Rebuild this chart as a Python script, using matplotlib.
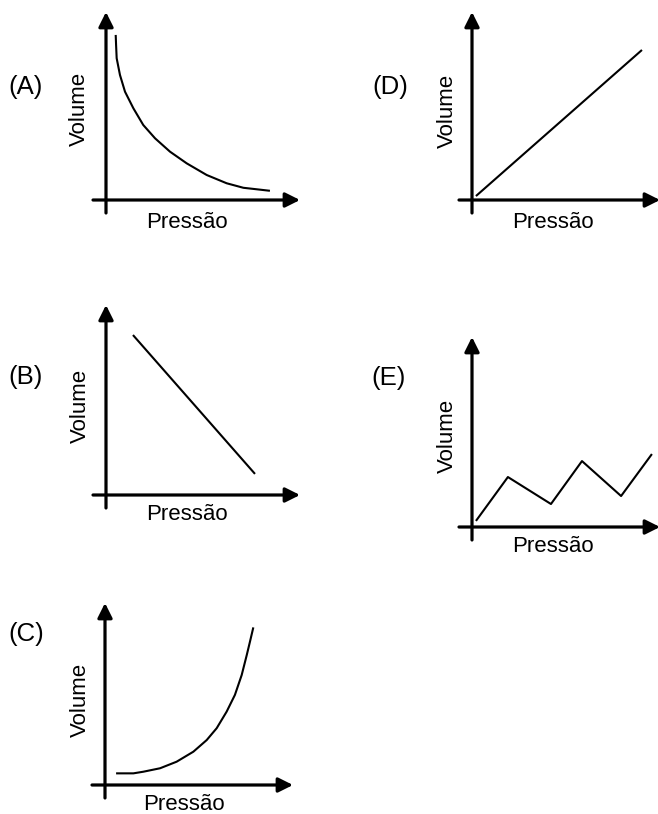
import matplotlib
matplotlib.use("Agg")
import matplotlib.pyplot as plt

plt.rcParams['font.family'] = ['Liberation Sans', 'DejaVu Sans']

W, H = 658, 814

x_label = "Pressão"
y_label = "Volume"
panel_names = ["(A)", "(B)", "(C)", "(D)", "(E)"]

# values, both axes on a 0-100 scale
pressao_a = [5.0, 5.2, 5.5, 7.2, 9.8, 14.1, 19.2, 25.3, 33.0, 41.6, 51.9, 62.2, 70.8, 77.7, 84.5]
volume_a = [87.8, 82.4, 75.4, 66.5, 57.6, 48.8, 39.9, 32.8, 25.7, 19.5, 13.3, 8.9, 6.5, 5.7, 4.9]

pressao_b = [13.9, 76.8]
volume_b = [84.2, 11.1]

pressao_c = [5.9, 15.1, 20.4, 29.3, 38.1, 47.0, 54.1, 59.4, 64.7, 69.1, 72.7, 75.4, 77.1, 78.9]
volume_c = [6.4, 6.4, 7.3, 9.2, 12.8, 18.3, 24.7, 31.2, 40.3, 49.5, 60.4, 71.4, 78.7, 86.6]

pressao_d = [2.1, 90.4]
volume_d = [2.1, 79.8]

pressao_e = [2.1, 19.1, 42.0, 58.5, 79.3, 95.7]
volume_e = [3.2, 26.3, 12.1, 34.7, 16.3, 38.4]

series = [(pressao_a, volume_a), (pressao_b, volume_b), (pressao_c, volume_c),
          (pressao_d, volume_d), (pressao_e, volume_e)]

# layout in pixels: origin, axis lengths, letter pos, ylabel pos, xlabel pos
layout = [
    dict(o=(106, 200), xl=194, yl=188, let=(26, 87), vol=(79, 109), pre=(187, 222)),
    dict(o=(106, 495), xl=194, yl=190, let=(26, 377), vol=(80, 406), pre=(187, 515)),
    dict(o=(105, 785), xl=188, yl=182, let=(26, 634), vol=(80, 700), pre=(184, 804)),
    dict(o=(472, 200), xl=188, yl=188, let=(390, 87), vol=(447, 111), pre=(553, 222)),
    dict(o=(472, 527), xl=188, yl=190, let=(389, 378), vol=(447, 436), pre=(553, 547)),
]

fig = plt.figure(figsize=(W / 100, H / 100), dpi=100)
fig.patch.set_facecolor('white')

for name, (px, vy), lay in zip(panel_names, series, layout):
    ox, oy = lay['o']
    ax = fig.add_axes([ox / W, (H - oy) / H, lay['xl'] / W, lay['yl'] / H])
    ax.set_xlim(0, 100)
    ax.set_ylim(0, 100)
    ax.axis('off')

    # axes with arrowheads, sticking out a bit past the origin
    ext_x = -13 / lay['xl'] * 100
    ext_y = -13 / lay['yl'] * 100
    arrow = dict(arrowstyle='-|>', lw=2.3, color='black', mutation_scale=22,
                 shrinkA=0, shrinkB=0)
    ax.annotate('', xy=(100, 0), xytext=(ext_x, 0), arrowprops=arrow,
                annotation_clip=False)
    ax.annotate('', xy=(0, 100), xytext=(0, ext_y), arrowprops=arrow,
                annotation_clip=False)

    ax.plot(px, vy, color='black', lw=1.5, clip_on=False,
            solid_joinstyle='round', solid_capstyle='butt')

    lx, ly = lay['let']
    fig.text(lx / W, 1 - ly / H, name, fontsize=18.5, ha='center', va='center')
    vx, vyy = lay['vol']
    fig.text(vx / W, 1 - vyy / H, y_label, fontsize=16, rotation=90,
             ha='center', va='center')
    qx, qy = lay['pre']
    fig.text(qx / W, 1 - qy / H, x_label, fontsize=16, ha='center', va='center')

fig.savefig('out.png', dpi=100)
